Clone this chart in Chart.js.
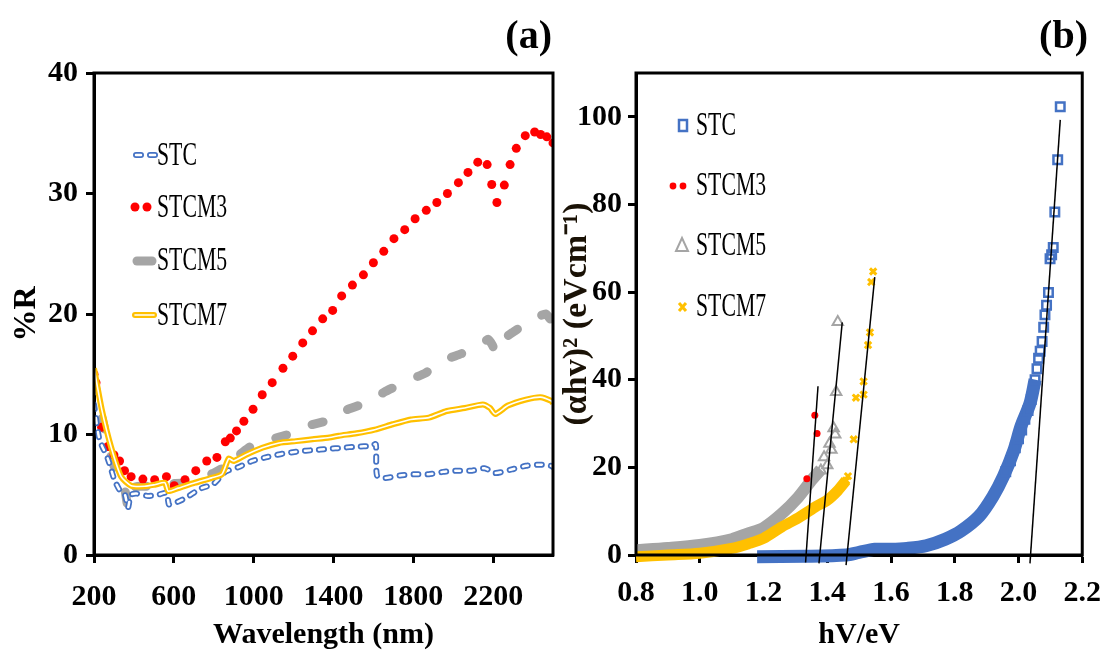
<!DOCTYPE html>
<html>
<head>
<meta charset="utf-8">
<script src="https://cdn.jsdelivr.net/npm/chart.js@4.4.1/dist/chart.umd.min.js"></script>
<style>
  body { margin: 0; background: #fff; width: 1113px; height: 655px; overflow: hidden; }
  .panel { position: absolute; top: 0; height: 655px; }
  #panelA { left: 0; width: 560px; }
  #panelB { left: 560px; width: 553px; }
</style>
</head>
<body>
<div class="panel" id="panelA"><canvas id="chartA"></canvas></div>
<div class="panel" id="panelB"><canvas id="chartB"></canvas></div>
<script>
// ---- panel (a): reflectance vs wavelength ----
const wlTicks = [200, 600, 1000, 1400, 1800, 2200];
const rTicks = [0, 10, 20, 30, 40];

const stcWl = [200, 227, 269, 302, 328, 355, 370, 385, 412, 471, 521, 563, 575, 588, 656, 732, 799, 858, 925, 992, 1060, 1144, 1228, 1295, 1373, 1445, 1516, 1589, 1612, 1618, 1661, 1733, 1805, 1878, 1950, 2022, 2094, 2157, 2211, 2292, 2364, 2437, 2490, 2500];
const stcR = [12.5, 9.6, 8.0, 6.25, 5.4, 5.0, 3.9, 5.0, 5.1, 4.9, 5.0, 5.15, 4.2, 4.2, 4.7, 5.5, 5.9, 6.9, 7.3, 7.8, 8.1, 8.4, 8.6, 8.7, 8.8, 8.9, 9.0, 9.05, 9.2, 6.6, 6.4, 6.6, 6.7, 6.7, 6.9, 7.0, 7.0, 7.2, 6.8, 7.1, 7.4, 7.5, 7.4, 7.3];

const m3Wl = [200, 210, 238, 270, 300, 328, 353, 386, 445, 504, 563, 602, 656, 710, 765, 816, 858, 883, 914, 951, 997, 1043, 1093, 1147, 1196, 1246, 1295, 1346, 1396, 1441, 1495, 1550, 1600, 1652, 1703, 1757, 1809, 1865, 1918, 1971, 2026, 2074, 2123, 2170, 2193, 2219, 2256, 2285, 2316, 2361, 2408, 2438, 2469, 2500];
const m3R = [15, 14.3, 10.6, 9.0, 8.3, 7.8, 7.0, 6.5, 6.3, 6.25, 6.5, 5.75, 6.25, 7.0, 7.8, 8.1, 9.4, 9.7, 10.3, 11.1, 12.1, 13.3, 14.3, 15.5, 16.5, 17.6, 18.6, 19.6, 20.3, 21.5, 22.4, 23.25, 24.25, 25.2, 26.25, 27.0, 27.9, 28.6, 29.25, 30.0, 30.9, 31.75, 32.6, 32.4, 30.75, 29.25, 30.7, 32.4, 33.75, 34.8, 35.1, 34.9, 34.7, 34.2];

const m5Wl = [200, 235, 285, 320, 350, 370, 380, 430, 500, 560, 670, 710, 800, 860, 875, 900, 985, 1048, 1192, 1255, 1391, 1445, 1607, 1652, 1805, 1860, 1968, 2040, 2150, 2175, 2197, 2211, 2260, 2300, 2347, 2419, 2464, 2491, 2500];
const m5R = [14.5, 11.8, 8.2, 6.5, 5.8, 4.0, 5.5, 5.7, 5.7, 5.9, 6.0, 6.3, 6.8, 7.4, 8.1, 8.0, 9.0, 9.4, 10.1, 10.65, 11.25, 11.9, 12.9, 13.5, 14.7, 15.1, 16.25, 16.7, 17.6, 17.9, 17.4, 16.8, 18.0, 18.5, 19.0, 19.7, 20.0, 19.5, 19.6];

const m7Wl = [200, 240, 285, 336, 386, 454, 504, 555, 572, 622, 706, 790, 841, 875, 900, 959, 1043, 1127, 1212, 1295, 1380, 1427, 1516, 1607, 1697, 1787, 1878, 1968, 2058, 2148, 2184, 2211, 2274, 2364, 2437, 2490, 2500];
const m7R = [15.5, 12, 9.0, 6.5, 5.75, 5.7, 5.83, 6.0, 5.3, 5.55, 6.0, 6.4, 6.7, 8.0, 7.8, 8.3, 8.9, 9.3, 9.45, 9.6, 9.75, 9.9, 10.1, 10.4, 10.85, 11.25, 11.4, 11.95, 12.2, 12.5, 12.2, 11.7, 12.4, 12.9, 13.1, 12.8, 12.6];

// ---- panel (b): Tauc plot ----
const hvTicks = [0.8, 1.0, 1.2, 1.4, 1.6, 1.8, 2.0, 2.2];
const absTicks = [0, 20, 40, 60, 80, 100];

const stcBandHv = [1.18, 1.33, 1.46, 1.50, 1.55, 1.60, 1.65, 1.71, 1.77, 1.82, 1.877, 1.92, 1.953, 1.986, 2.008, 2.036, 2.052];
const stcBandAbs = [-0.4, -0.3, 0, 0.6, 1.3, 1.3, 1.5, 2.1, 3.6, 5.5, 8.9, 13.4, 18.0, 24, 29.4, 34.6, 40];
const stcPtHv = [1.96, 1.975, 1.99, 2.0, 2.01, 2.02, 2.03, 2.04, 2.052, 2.058, 2.063, 2.068, 2.074, 2.079, 2.083, 2.088, 2.094, 2.099, 2.104, 2.109, 2.114, 2.123, 2.131];
const stcPtAbs = [19, 21.5, 24.5, 26.5, 28.5, 31, 33, 35.5, 40, 42.5, 44.9, 46.5, 48.7, 52, 54.8, 57, 59.9, 67.6, 68.5, 70.2, 78.3, 90.2, 102.3];

const m3Hv = [1.336, 1.361, 1.368];
const m3Abs = [17.4, 31.9, 27.7];

const m5BandHv = [0.8, 0.9, 1.0, 1.1, 1.15, 1.2, 1.257, 1.309, 1.35, 1.38];
const m5BandAbs = [1.1, 1.6, 2.3, 3.6, 4.9, 6.2, 9.4, 13.2, 17, 19.5];
const m5PtHv = [1.38, 1.39, 1.40, 1.407, 1.413, 1.42, 1.425, 1.428, 1.433];
const m5PtAbs = [19.3, 22.3, 20.5, 25.4, 24, 28.9, 27.5, 37.2, 53.2];

const m7BandHv = [0.8, 0.9, 1.0, 1.1, 1.154, 1.2, 1.257, 1.31, 1.361, 1.4, 1.433, 1.459];
const m7BandAbs = [-0.4, 0, 0.4, 1.5, 2.6, 3.8, 6.4, 8.5, 10.9, 12.5, 14.7, 17];
const m7PtHv = [1.459, 1.465, 1.483, 1.49, 1.514, 1.514, 1.528, 1.534, 1.538, 1.544];
const m7PtAbs = [17, 18, 26.4, 35.9, 36.6, 39.6, 47.9, 50.8, 62.3, 64.7];

// linear fits (end points)
const fitStcHv = [2.036, 2.131], fitStcAbs = [-1.9, 99.3];
const fitM3Hv = [1.332, 1.371], fitM3Abs = [-1.7, 38.5];
const fitM5Hv = [1.374, 1.447], fitM5Abs = [-1.9, 53.1];
const fitM7Hv = [1.459, 1.549], fitM7Abs = [-2.3, 63.4];

const BLUE = '#4472c4';
const RED = '#ff0000';
const GRAY = '#a5a5a5';
const GOLD = '#ffc000';
const SERIF = '"Liberation Serif", "Times New Roman", serif';

const pts = (xs, ys) => xs.map((x, i) => ({ x: x, y: ys[i] }));
const bold = (size) => ({ family: SERIF, size: size, weight: 'bold' });

function tickList(list) {
    return function(scale) {
        scale.ticks = list.map(v => ({ value: v }));
    };
}

// condensed legend text like the original
function legendText(ctx, text, x, y) {
    ctx.save();
    ctx.translate(x, y);
    ctx.scale(0.64, 1);
    ctx.font = '34px ' + SERIF;
    ctx.fillStyle = '#000';
    ctx.textBaseline = 'middle';
    ctx.textAlign = 'left';
    ctx.fillText(text, 0, 0);
    ctx.restore();
}

function frameAndLabel(ctx, area, label, labelRight) {
    ctx.save();
    ctx.strokeStyle = '#000';
    ctx.lineWidth = 3;
    ctx.strokeRect(area.left, area.top, area.right - area.left, area.bottom - area.top);
    ctx.font = 'bold 40px ' + SERIF;
    ctx.fillStyle = '#000';
    ctx.textAlign = 'right';
    ctx.textBaseline = 'middle';
    ctx.fillText(label, labelRight, 38);
    ctx.restore();
}

const panelAExtras = {
    id: 'panelAExtras',
    afterDraw(chart) {
        const ctx = chart.ctx;
        frameAndLabel(ctx, chart.chartArea, '(a)', 552);

        ctx.save();
        ctx.lineCap = 'round';
        // STC: hollow dashes
        ctx.setLineDash([5, 9]);
        ctx.strokeStyle = BLUE; ctx.lineWidth = 6;
        ctx.beginPath(); ctx.moveTo(136, 155); ctx.lineTo(156, 155); ctx.stroke();
        ctx.strokeStyle = '#fff'; ctx.lineWidth = 2.5;
        ctx.beginPath(); ctx.moveTo(136, 155); ctx.lineTo(156, 155); ctx.stroke();
        ctx.setLineDash([]);
        // STCM3: dots
        ctx.fillStyle = RED;
        [135, 147].forEach(x => { ctx.beginPath(); ctx.arc(x, 207, 4.5, 0, Math.PI * 2); ctx.fill(); });
        // STCM5: thick gray bar
        ctx.strokeStyle = GRAY; ctx.lineWidth = 9;
        ctx.beginPath(); ctx.moveTo(137, 261); ctx.lineTo(152, 261); ctx.stroke();
        // STCM7: double gold line
        ctx.strokeStyle = GOLD; ctx.lineWidth = 6;
        ctx.beginPath(); ctx.moveTo(135, 315); ctx.lineTo(154, 315); ctx.stroke();
        ctx.strokeStyle = '#fff'; ctx.lineWidth = 1.6;
        ctx.beginPath(); ctx.moveTo(135, 315); ctx.lineTo(154, 315); ctx.stroke();
        ctx.restore();

        legendText(ctx, 'STC', 157, 156);
        legendText(ctx, 'STCM3', 157, 208);
        legendText(ctx, 'STCM5', 157, 261);
        legendText(ctx, 'STCM7', 157, 316);
    }
};

const panelBExtras = {
    id: 'panelBExtras',
    afterDraw(chart) {
        const ctx = chart.ctx;
        frameAndLabel(ctx, chart.chartArea, '(b)', 528);

        ctx.save();
        // STC: hollow square
        ctx.strokeStyle = BLUE; ctx.lineWidth = 2.5;
        ctx.strokeRect(119, 120, 8, 11);
        // STCM3: two dots
        ctx.fillStyle = RED;
        [113, 123].forEach(x => { ctx.beginPath(); ctx.arc(x, 186, 3.4, 0, Math.PI * 2); ctx.fill(); });
        // STCM5: hollow triangle
        ctx.strokeStyle = GRAY; ctx.lineWidth = 2;
        ctx.beginPath(); ctx.moveTo(122, 238); ctx.lineTo(128, 251); ctx.lineTo(116, 251); ctx.closePath(); ctx.stroke();
        // STCM7: small cross
        ctx.strokeStyle = GOLD; ctx.lineWidth = 3;
        ctx.beginPath();
        ctx.moveTo(119, 303); ctx.lineTo(126, 311);
        ctx.moveTo(126, 303); ctx.lineTo(119, 311);
        ctx.stroke();
        ctx.restore();

        legendText(ctx, 'STC', 136, 126);
        legendText(ctx, 'STCM3', 136, 186);
        legendText(ctx, 'STCM5', 136, 246);
        legendText(ctx, 'STCM7', 136, 307);
    }
};

const tickGrid = { drawOnChartArea: false, tickLength: 8, tickWidth: 3, tickColor: '#000' };
const axisBorder = { color: '#000', width: 3 };

// Panel (a)
new Chart(document.getElementById('chartA'), {
    type: 'line',
    data: {
        datasets: [
            { label: 'STC', data: pts(stcWl, stcR), borderColor: BLUE, borderWidth: 6, borderDash: [5, 9], borderCapStyle: 'round', pointRadius: 0, tension: 0.2, order: 3 },
            { label: 'STC core', data: pts(stcWl, stcR), borderColor: '#fff', borderWidth: 2.5, borderDash: [5, 9], borderCapStyle: 'round', pointRadius: 0, tension: 0.2, order: 2 },
            { label: 'STCM3', data: pts(m3Wl, m3R), showLine: false, pointRadius: 4.5, pointBackgroundColor: RED, pointBorderWidth: 0, order: 4 },
            { label: 'STCM5', data: pts(m5Wl, m5R), borderColor: GRAY, borderWidth: 9, borderDash: [11, 28], borderCapStyle: 'round', pointRadius: 0, tension: 0.2, order: 5 },
            { label: 'STCM7', data: pts(m7Wl, m7R), borderColor: GOLD, borderWidth: 6, pointRadius: 0, tension: 0.2, order: 1 },
            { label: 'STCM7 core', data: pts(m7Wl, m7R), borderColor: '#fff', borderWidth: 1.6, pointRadius: 0, tension: 0.2, order: 0 }
        ]
    },
    options: {
        responsive: true,
        maintainAspectRatio: false,
        animation: false,
        layout: { padding: { top: 73, right: 7, left: 0, bottom: 0 } },
        plugins: { legend: { display: false }, tooltip: { enabled: false } },
        scales: {
            x: {
                type: 'linear', min: 200, max: 2500,
                afterBuildTicks: tickList(wlTicks),
                afterFit: s => { s.height = 100; },
                ticks: { color: '#000', font: bold(30), padding: 16, autoSkip: false, maxRotation: 0, callback: v => String(v) },
                grid: tickGrid, border: axisBorder,
                title: { display: true, text: 'Wavelength (nm)', color: '#000', font: bold(30), padding: { top: 0, bottom: 2 } }
            },
            y: {
                min: 0, max: 40,
                afterBuildTicks: tickList(rTicks),
                afterFit: s => { s.width = 94; },
                ticks: { color: '#000', font: bold(30), padding: 8 },
                grid: tickGrid, border: axisBorder,
                title: { display: true, text: '%R', color: '#000', font: bold(32), padding: { top: 8, bottom: 0 } }
            }
        }
    },
    plugins: [panelAExtras]
});

// Panel (b)
const fitLine = (xs, ys) => ({ data: pts(xs, ys), borderColor: '#000', borderWidth: 1.5, pointRadius: 0, clip: false, order: 0 });

new Chart(document.getElementById('chartB'), {
    type: 'line',
    data: {
        datasets: [
            fitLine(fitStcHv, fitStcAbs),
            fitLine(fitM3Hv, fitM3Abs),
            fitLine(fitM5Hv, fitM5Abs),
            fitLine(fitM7Hv, fitM7Abs),
            { label: 'STC', data: pts(stcPtHv, stcPtAbs), showLine: false, pointStyle: 'rect', pointRadius: 6, pointBorderWidth: 2.5, pointBorderColor: BLUE, pointBackgroundColor: 'rgba(255,255,255,0)', order: 1 },
            { label: 'STC band', data: pts(stcBandHv, stcBandAbs), borderColor: BLUE, borderWidth: 13, pointRadius: 0, tension: 0.3, clip: false, order: 2 },
            { label: 'STCM3', data: pts(m3Hv, m3Abs), showLine: false, pointRadius: 3.5, pointBackgroundColor: RED, pointBorderWidth: 0, order: 3 },
            { label: 'STCM7', data: pts(m7PtHv, m7PtAbs), showLine: false, pointStyle: 'crossRot', pointRadius: 4.5, pointBorderWidth: 3, pointBorderColor: GOLD, order: 4 },
            { label: 'STCM7 band', data: pts(m7BandHv, m7BandAbs), borderColor: GOLD, borderWidth: 11, pointRadius: 0, tension: 0.3, clip: false, order: 5 },
            { label: 'STCM5', data: pts(m5PtHv, m5PtAbs), showLine: false, pointStyle: 'triangle', pointRadius: 6, pointBorderWidth: 2, pointBorderColor: GRAY, pointBackgroundColor: 'rgba(255,255,255,0)', order: 6 },
            { label: 'STCM5 band', data: pts(m5BandHv, m5BandAbs), borderColor: GRAY, borderWidth: 12, pointRadius: 0, tension: 0.3, clip: false, order: 7 }
        ]
    },
    options: {
        responsive: true,
        maintainAspectRatio: false,
        animation: false,
        layout: { padding: { top: 73, right: 26, left: 0, bottom: 0 } },
        plugins: { legend: { display: false }, tooltip: { enabled: false } },
        scales: {
            x: {
                type: 'linear', min: 0.8, max: 2.2,
                afterBuildTicks: tickList(hvTicks),
                afterFit: s => { s.height = 100; },
                ticks: { color: '#000', font: bold(30), padding: 12, autoSkip: false, maxRotation: 0, callback: v => v.toFixed(1) },
                grid: tickGrid, border: axisBorder,
                title: { display: true, text: 'hV/eV', color: '#000', font: bold(30), padding: { top: 0, bottom: 2 } }
            },
            y: {
                min: 0, max: 110,
                afterBuildTicks: tickList(absTicks),
                afterFit: s => { s.width = 76; },
                ticks: { color: '#000', font: bold(30), padding: 6 },
                grid: tickGrid, border: axisBorder,
                title: { display: true, text: '(αhv)² (eVcm⁻¹)', color: '#1a1206', font: Object.assign(bold(34), { lineHeight: 1 }), padding: { top: 0, bottom: 0 } }
            }
        }
    },
    plugins: [panelBExtras]
});
</script>
</body>
</html>
